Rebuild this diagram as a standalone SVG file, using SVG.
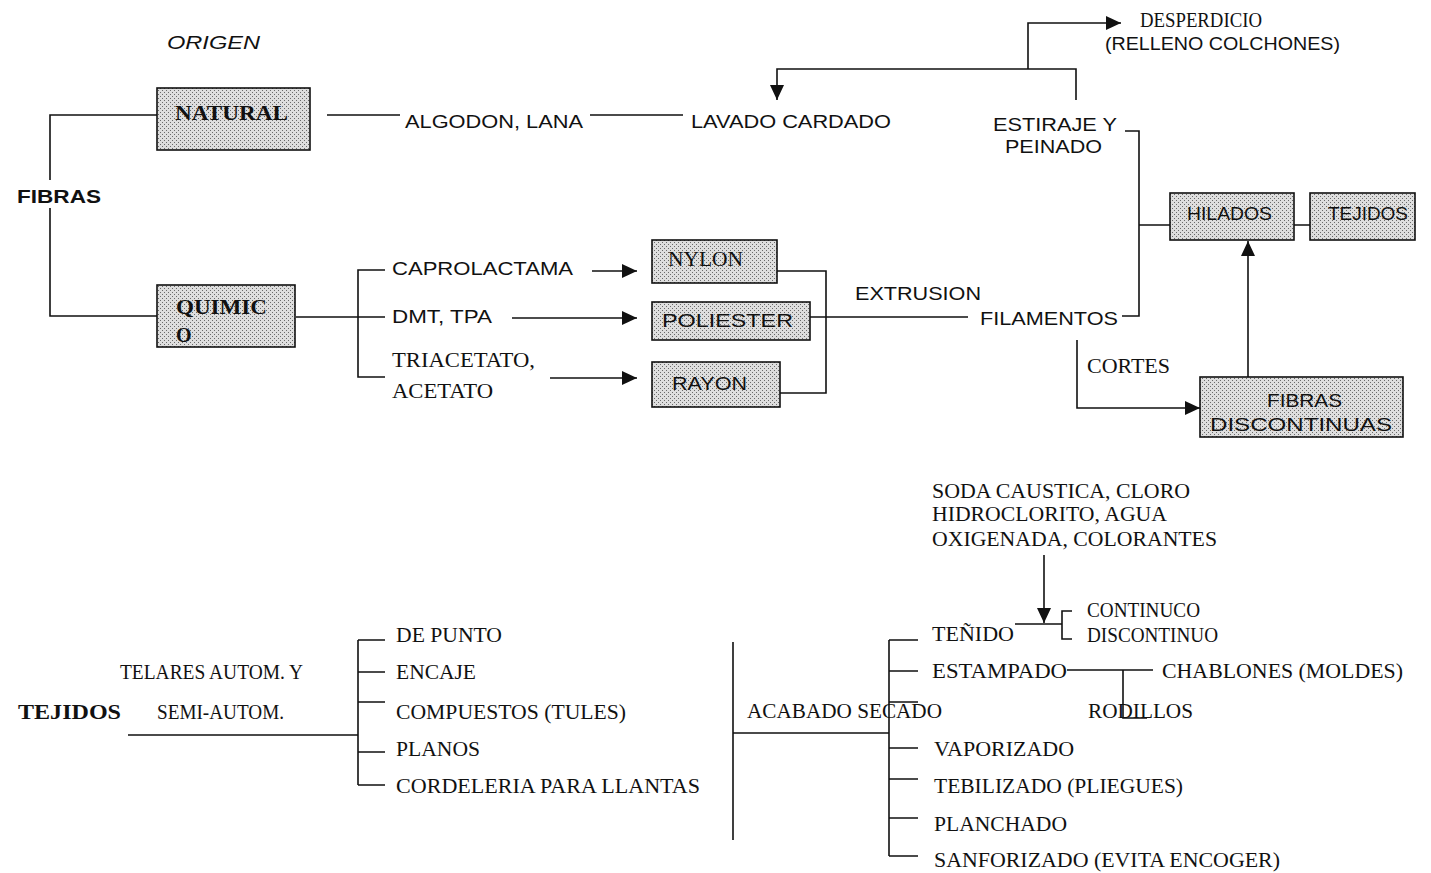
<svg xmlns="http://www.w3.org/2000/svg" width="1431" height="873" viewBox="0 0 1431 873">
<style>
.s{font-family:"Liberation Sans",Arial,sans-serif;font-size:19px;fill:#111}
.r{font-family:"Liberation Serif","Times New Roman",serif;font-size:20px;fill:#111}
.b{font-weight:bold}
.box{fill:url(#dots);stroke:#111;stroke-width:1.6}
.ln{fill:none;stroke:#111;stroke-width:1.6}
.ar{fill:none;stroke:#111;stroke-width:1.6;marker-end:url(#ah)}
</style>
<defs>
<pattern id="dots" width="4" height="4" patternUnits="userSpaceOnUse">
<rect width="4" height="4" fill="#dedede"/>
<rect x="0" y="0" width="1" height="1" fill="#6a6a6a"/>
<rect x="2" y="2" width="1" height="1" fill="#6a6a6a"/>
</pattern>
<marker id="ah" markerUnits="userSpaceOnUse" markerWidth="16" markerHeight="14" refX="15" refY="7" orient="auto">
<path d="M0,0 L15,7 L0,14 z" fill="#111"/>
</marker>
</defs>
<rect width="1431" height="873" fill="#fff"/>

<g id="connectors">
<path class="ln" d="M50,180 V115 H157 M50,208 V316 H157"/>
<path class="ln" d="M327,115 H400 M590,115 H683"/>
<path class="ar" d="M1076,100 V69 H777 V100"/>
<path class="ar" d="M1028,69 V23 H1121"/>
<path class="ln" d="M1125,131 H1139 V316 H1122 M1139,225 H1170 M1294,225 H1310"/>
<path class="ln" d="M296,317 H385 M385,270 H358 V377 H385"/>
<path class="ar" d="M592,271 H637"/>
<path class="ar" d="M512,318 H637"/>
<path class="ar" d="M550,378 H637"/>
<path class="ln" d="M777,271 H826 V393 H780 M810,317 H968"/>
<path class="ar" d="M1077,340 V408 H1200"/>
<path class="ar" d="M1248,377 V241"/>
<path class="ln" d="M128,735 H358 M358,640 V785 M358,640 H385 M358,672 H385 M358,702 H385 M358,752 H385 M358,785 H385"/>
<path class="ln" d="M733,642 V840 M733,733 H889 M889,640 V856 M889,640 H918 M889,671 H918 M889,702 H918 M889,748 H918 M889,779 H918 M889,818 H918 M889,856 H918"/>
<path class="ln" d="M1015,624 H1062 M1072,611 H1062 V639 H1072"/>
<path class="ar" d="M1044,555 V623"/>
<path class="ln" d="M1067,670 H1153 M1123,670 V718 H1147"/>
</g>

<g id="origen"><text class="s" x="167" y="49" font-style="italic" textLength="93" lengthAdjust="spacingAndGlyphs">ORIGEN</text></g>
<g id="fibras"><text class="s b" x="17" y="203" textLength="84" lengthAdjust="spacingAndGlyphs">FIBRAS</text></g>

<g id="natural">
<rect class="box" x="157" y="88" width="153" height="62"/>
<text class="r b" x="175" y="120" font-size="21" textLength="113" lengthAdjust="spacingAndGlyphs">NATURAL</text>
</g>
<g id="quimico">
<rect class="box" x="157" y="285" width="138" height="62"/>
<text class="r b" x="176" y="314" font-size="21" textLength="91" lengthAdjust="spacingAndGlyphs">QUIMIC</text>
<text class="r b" x="176" y="342" font-size="21">O</text>
</g>

<g id="algodon"><text class="s" x="405" y="128" textLength="178" lengthAdjust="spacingAndGlyphs">ALGODON, LANA</text></g>
<g id="lavado"><text class="s" x="691" y="128" textLength="200" lengthAdjust="spacingAndGlyphs">LAVADO CARDADO</text></g>
<g id="estiraje">
<text class="s" x="993" y="131" textLength="124" lengthAdjust="spacingAndGlyphs">ESTIRAJE Y</text>
<text class="s" x="1005" y="153" textLength="97" lengthAdjust="spacingAndGlyphs">PEINADO</text>
</g>
<g id="desperdicio">
<text class="r" x="1140" y="27" font-size="18" textLength="122" lengthAdjust="spacingAndGlyphs">DESPERDICIO</text>
<text class="s" x="1105" y="50" font-size="18" textLength="235" lengthAdjust="spacingAndGlyphs">(RELLENO COLCHONES)</text>
</g>

<g id="hilados">
<rect class="box" x="1170" y="193" width="124" height="47"/>
<text class="s" x="1187" y="220" textLength="85" lengthAdjust="spacingAndGlyphs">HILADOS</text>
</g>
<g id="tejidos-box">
<rect class="box" x="1310" y="193" width="105" height="47"/>
<text class="s" x="1328" y="220" textLength="80" lengthAdjust="spacingAndGlyphs">TEJIDOS</text>
</g>
<g id="fibras-discontinuas">
<rect class="box" x="1200" y="377" width="203" height="60"/>
<text class="s" x="1267" y="407" textLength="75" lengthAdjust="spacingAndGlyphs">FIBRAS</text>
<text class="s" x="1210" y="431" textLength="182" lengthAdjust="spacingAndGlyphs">DISCONTINUAS</text>
</g>

<g id="caprolactama"><text class="s" x="392" y="275" textLength="181" lengthAdjust="spacingAndGlyphs">CAPROLACTAMA</text></g>
<g id="dmt"><text class="s" x="392" y="323" textLength="100" lengthAdjust="spacingAndGlyphs">DMT, TPA</text></g>
<g id="triacetato">
<text class="r" x="392" y="367" font-size="19" textLength="143" lengthAdjust="spacingAndGlyphs">TRIACETATO,</text>
<text class="r" x="392" y="398" font-size="19" textLength="101" lengthAdjust="spacingAndGlyphs">ACETATO</text>
</g>

<g id="nylon">
<rect class="box" x="652" y="240" width="125" height="43"/>
<text class="r" x="668" y="266" font-size="19" textLength="75" lengthAdjust="spacingAndGlyphs">NYLON</text>
</g>
<g id="poliester">
<rect class="box" x="652" y="302" width="158" height="38"/>
<text class="s" x="662" y="327" textLength="131" lengthAdjust="spacingAndGlyphs">POLIESTER</text>
</g>
<g id="rayon">
<rect class="box" x="652" y="362" width="128" height="45"/>
<text class="s" x="672" y="390" textLength="75" lengthAdjust="spacingAndGlyphs">RAYON</text>
</g>

<g id="extrusion"><text class="s" x="855" y="300" textLength="126" lengthAdjust="spacingAndGlyphs">EXTRUSION</text></g>
<g id="filamentos"><text class="s" x="980" y="325" textLength="138" lengthAdjust="spacingAndGlyphs">FILAMENTOS</text></g>
<g id="cortes"><text class="r" x="1087" y="373" font-size="19" textLength="83" lengthAdjust="spacingAndGlyphs">CORTES</text></g>

<g id="tejidos">
<text class="r b" x="18" y="719" textLength="103" lengthAdjust="spacingAndGlyphs">TEJIDOS</text>
<text class="r" x="120" y="679" font-size="18" textLength="183" lengthAdjust="spacingAndGlyphs">TELARES AUTOM. Y</text>
<text class="r" x="157" y="719" font-size="18" textLength="127" lengthAdjust="spacingAndGlyphs">SEMI-AUTOM.</text>
</g>
<g id="tipos-tejido">
<text class="r" x="396" y="642" textLength="106" lengthAdjust="spacingAndGlyphs">DE PUNTO</text>
<text class="r" x="396" y="679" textLength="80" lengthAdjust="spacingAndGlyphs">ENCAJE</text>
<text class="r" x="396" y="719" textLength="230" lengthAdjust="spacingAndGlyphs">COMPUESTOS (TULES)</text>
<text class="r" x="396" y="756" textLength="84" lengthAdjust="spacingAndGlyphs">PLANOS</text>
<text class="r" x="396" y="793" textLength="304" lengthAdjust="spacingAndGlyphs">CORDELERIA PARA LLANTAS</text>
</g>

<g id="acabado"><text class="r" x="747" y="718" textLength="195" lengthAdjust="spacingAndGlyphs">ACABADO SECADO</text></g>
<g id="soda">
<text class="r" x="932" y="498" textLength="258" lengthAdjust="spacingAndGlyphs">SODA CAUSTICA, CLORO</text>
<text class="r" x="932" y="521" textLength="235" lengthAdjust="spacingAndGlyphs">HIDROCLORITO, AGUA</text>
<text class="r" x="932" y="546" textLength="285" lengthAdjust="spacingAndGlyphs">OXIGENADA, COLORANTES</text>
</g>
<g id="tenido"><text class="r" x="932" y="641" textLength="82" lengthAdjust="spacingAndGlyphs">TEÑIDO</text></g>
<g id="continuo">
<text class="r" x="1087" y="617" font-size="19" textLength="113" lengthAdjust="spacingAndGlyphs">CONTINUCO</text>
<text class="r" x="1087" y="642" font-size="19" textLength="131" lengthAdjust="spacingAndGlyphs">DISCONTINUO</text>
</g>
<g id="estampado"><text class="r" x="932" y="678" textLength="135" lengthAdjust="spacingAndGlyphs">ESTAMPADO</text></g>
<g id="chablones"><text class="r" x="1162" y="678" textLength="241" lengthAdjust="spacingAndGlyphs">CHABLONES (MOLDES)</text></g>
<g id="rodillos"><text class="r" x="1088" y="718" textLength="105" lengthAdjust="spacingAndGlyphs">RODILLOS</text></g>
<g id="vaporizado"><text class="r" x="934" y="756" textLength="140" lengthAdjust="spacingAndGlyphs">VAPORIZADO</text></g>
<g id="tebilizado"><text class="r" x="934" y="793" textLength="249" lengthAdjust="spacingAndGlyphs">TEBILIZADO (PLIEGUES)</text></g>
<g id="planchado"><text class="r" x="934" y="831" textLength="133" lengthAdjust="spacingAndGlyphs">PLANCHADO</text></g>
<g id="sanforizado"><text class="r" x="934" y="867" textLength="346" lengthAdjust="spacingAndGlyphs">SANFORIZADO (EVITA ENCOGER)</text></g>
</svg>
